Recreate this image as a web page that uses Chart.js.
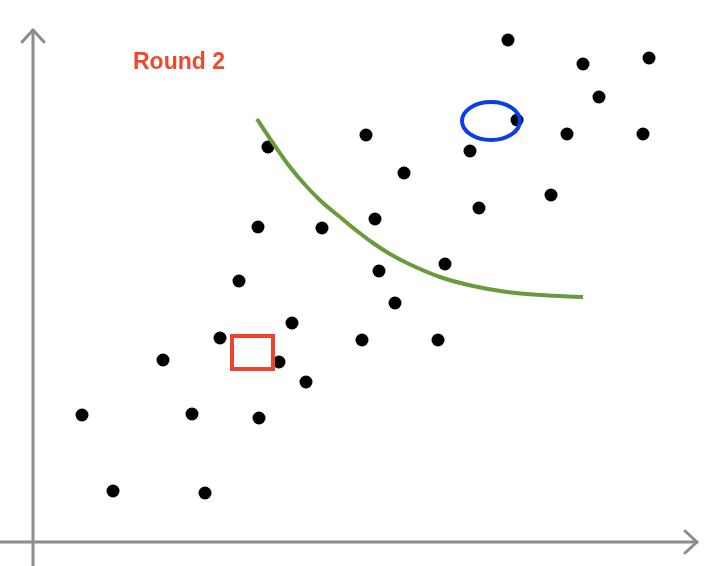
<!DOCTYPE html>
<html>
<head>
<meta charset="utf-8">
<script src="https://cdn.jsdelivr.net/npm/chart.js@4/dist/chart.umd.min.js"></script>
<style>
  html, body { margin: 0; padding: 0; background: #fff; }
  #wrap { width: 722px; height: 566px; position: relative; }
</style>
</head>
<body>
<div id="wrap"><canvas id="chart"></canvas></div>
<script>
// origin of the drawn axes is the data point (0, 0)
const pointX = [475, 550, 616, 566, 484, 534, 610, 333, 235, 437, 371, 518, 446, 342, 289, 225,
  412, 346, 206, 362, 259, 187, 329, 405, 130, 246, 273, 49, 159, 226, 80, 172];
const pointY = [502, 478, 484, 445, 422, 408, 408, 407, 395, 391, 369, 347, 334, 323, 314, 315,
  278, 271, 261, 239, 219, 204, 202, 202, 182, 180, 160, 127, 128, 124, 51, 49];

const curveX = [224, 240, 257, 274, 290, 307, 324, 340, 357, 374, 407, 440, 474, 507, 550];
const curveY = [423, 399, 375, 355, 339, 325, 311, 299, 288, 279, 265, 256, 250, 247, 245];

const labelText = "Round 2";
const labelAt = [100, 480];
const ellipseAt = [458, 421, 29, 19]; // cx, cy, rx, ry
const boxAt = [199, 206, 240, 173]; // x1, y1, x2, y2

const extras = {
  id: "extras",
  afterDatasetsDraw(chart) {
    const { ctx, scales: { x, y } } = chart;
    ctx.save();

    // axes with arrow heads
    ctx.strokeStyle = "#8c8c8c";
    ctx.lineWidth = 3;
    ctx.lineCap = "round";
    ctx.lineJoin = "round";
    const ox = x.getPixelForValue(0), oy = y.getPixelForValue(0);
    const top = y.getPixelForValue(512), right = x.getPixelForValue(664);
    ctx.beginPath();
    ctx.moveTo(ox, y.getPixelForValue(-30));
    ctx.lineTo(ox, top);
    ctx.moveTo(x.getPixelForValue(-40), oy);
    ctx.lineTo(right, oy);
    ctx.stroke();
    ctx.beginPath();
    ctx.moveTo(ox - 11, top + 12);
    ctx.lineTo(ox, top);
    ctx.lineTo(ox + 11, top + 12);
    ctx.moveTo(right - 12, oy - 11);
    ctx.lineTo(right, oy);
    ctx.lineTo(right - 12, oy + 11);
    ctx.stroke();

    // blue ellipse
    ctx.strokeStyle = "#0a3ee6";
    ctx.lineWidth = 4;
    ctx.beginPath();
    ctx.ellipse(x.getPixelForValue(ellipseAt[0]), y.getPixelForValue(ellipseAt[1]),
      ellipseAt[2], ellipseAt[3], 0, 0, Math.PI * 2);
    ctx.stroke();

    // red box
    ctx.strokeStyle = "#ec452b";
    ctx.lineWidth = 4;
    ctx.lineJoin = "miter";
    const bx1 = x.getPixelForValue(boxAt[0]), by1 = y.getPixelForValue(boxAt[1]);
    const bx2 = x.getPixelForValue(boxAt[2]), by2 = y.getPixelForValue(boxAt[3]);
    ctx.strokeRect(bx1, by1, bx2 - bx1, by2 - by1);

    // label
    ctx.fillStyle = "#ec4a30";
    ctx.font = "bold 23px 'Liberation Sans', Arial, sans-serif";
    ctx.textBaseline = "alphabetic";
    ctx.fillText(labelText, x.getPixelForValue(labelAt[0]), y.getPixelForValue(labelAt[1]) + 7);
    ctx.restore();
  },
};

new Chart(document.querySelector("#chart"), {
  type: "scatter",
  data: {
    datasets: [
      {
        type: "line",
        data: curveX.map((v, i) => ({ x: v, y: curveY[i] })),
        borderColor: "#6b9a3a",
        borderWidth: 4,
        pointRadius: 0,
        cubicInterpolationMode: "monotone",
        fill: false,
        order: 1,
      },
      {
        data: pointX.map((v, i) => ({ x: v, y: pointY[i] })),
        backgroundColor: "#000",
        borderWidth: 0,
        pointRadius: 6.5,
        order: 2,
      },
    ],
  },
  options: {
    responsive: true,
    maintainAspectRatio: false,
    animation: false,
    layout: { padding: 0, autoPadding: false },
    plugins: {
      legend: { display: false },
      tooltip: { enabled: false },
    },
    scales: {
      x: { type: "linear", min: -33, max: 689, display: false },
      y: { type: "linear", min: -24, max: 542, display: false },
    },
  },
  plugins: [extras],
});
</script>
</body>
</html>
